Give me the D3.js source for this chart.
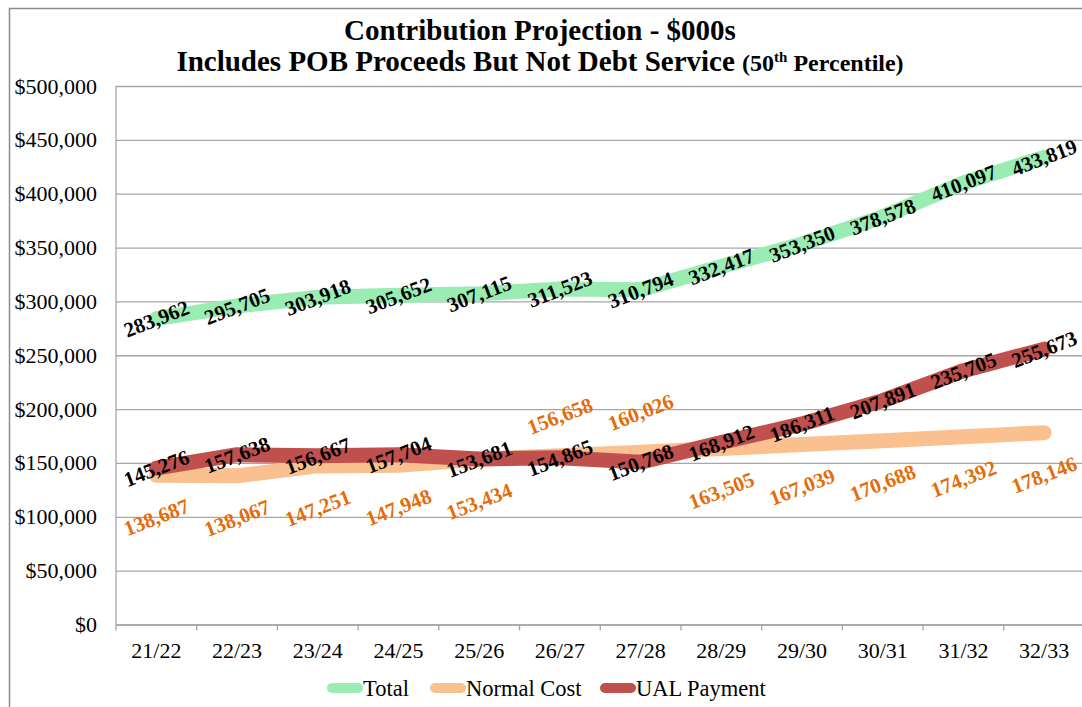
<!DOCTYPE html>
<html>
<head>
<meta charset="utf-8">
<script src="https://cdn.jsdelivr.net/npm/d3@7"></script>
<style>
  body { margin: 0; background: #fff; }
  svg { display: block; font-family: "Liberation Serif", "Times New Roman", serif; }
</style>
</head>
<body>
<svg id="chart" width="1082" height="707"></svg>
<script>
// chart data ($000s)
const years = ["21/22", "22/23", "23/24", "24/25", "25/26", "26/27", "27/28", "28/29", "29/30", "30/31", "31/32", "32/33"];
const total = [283962, 295705, 303918, 305652, 307115, 311523, 310794, 332417, 353350, 378578, 410097, 433819];
const normalCost = [138687, 138067, 147251, 147948, 153434, 156658, 160026, 163505, 167039, 170688, 174392, 178146];
const ualPayment = [145276, 157638, 156667, 157704, 153681, 154865, 150768, 168912, 186311, 207891, 235705, 255673];
const yTicks = [0, 50000, 100000, 150000, 200000, 250000, 300000, 350000, 400000, 450000, 500000];
// normal cost labels that sit above the line instead of below
const ncLabelsAbove = ["26/27", "27/28"];

const serif = "'Liberation Serif', 'Times New Roman', serif";
const svg = d3.select("#chart");
const margin = { left: 116, top: 86, bottom: 624.5 };
const plotRight = 1084.5;

// outer frame
svg.append("path")
    .attr("d", "M9.5,707 V8.5 H1082")
    .attr("fill", "none")
    .attr("stroke", "#8c8c8c")
    .attr("stroke-width", 1.5);

const x = d3.scaleBand().domain(years).range([margin.left, plotRight]);
const y = d3.scaleLinear().domain([0, 500000]).range([margin.bottom, margin.top]);

// gridlines + y labels
const yAxis = d3.axisLeft(y)
    .tickValues(yTicks)
    .tickSize(-(plotRight - margin.left))
    .tickPadding(19)
    .tickFormat(d => "$" + d3.format(",")(d));

const gy = svg.append("g")
    .attr("transform", `translate(${margin.left},0)`)
    .call(yAxis);
gy.select(".domain").remove();
gy.selectAll(".tick line").attr("stroke", "#a6a6a6").attr("stroke-width", 1.3);
gy.selectAll(".tick text")
    .attr("font-size", 22)
    .attr("font-family", serif)
    .attr("fill", "#000");

// y axis line
svg.append("line")
    .attr("x1", margin.left).attr("x2", margin.left)
    .attr("y1", margin.top).attr("y2", margin.bottom + 6)
    .attr("stroke", "#a6a6a6").attr("stroke-width", 1.3);

// x axis labels
const gx = svg.append("g")
    .attr("transform", `translate(0,${margin.bottom})`)
    .call(d3.axisBottom(x).tickSize(0).tickPadding(18));
gx.select(".domain").attr("stroke", "#a6a6a6").attr("stroke-width", 1.3);
gx.selectAll(".tick text")
    .attr("font-size", 22)
    .attr("font-family", serif)
    .attr("fill", "#000");

// boundary tick marks
svg.append("g").selectAll("line")
    .data(years.slice(1))
    .join("line")
    .attr("x1", d => x(d)).attr("x2", d => x(d))
    .attr("y1", margin.bottom).attr("y2", margin.bottom + 6)
    .attr("stroke", "#a6a6a6").attr("stroke-width", 1.3);

const series = [
  { name: "Total", values: total, color: "#99edb3", labelColor: "#000" },
  { name: "Normal Cost", values: normalCost, color: "#fac090", labelColor: "#e46c0a" },
  { name: "UAL Payment", values: ualPayment, color: "#c0504d", labelColor: "#000" }
];

const line = d3.line()
    .x((d, i) => x(years[i]) + x.bandwidth() / 2)
    .y(d => y(d));

svg.append("g").selectAll("path")
    .data(series)
    .join("path")
    .attr("d", s => line(s.values))
    .attr("fill", "none")
    .attr("stroke", s => s.color)
    .attr("stroke-width", 15)
    .attr("stroke-linecap", "round")
    .attr("stroke-linejoin", "round");

// data labels
series.forEach(s => {
  svg.append("g").selectAll("text")
    .data(s.values)
    .join("text")
    .attr("transform", (d, i) => {
      let px = x(years[i]) + x.bandwidth() / 2;
      let py = y(d);
      if (s.name === "Normal Cost") py += ncLabelsAbove.includes(years[i]) ? -40 : 42;
      return `translate(${px},${py}) rotate(-21)`;
    })
    .attr("text-anchor", "middle")
    .attr("dy", "0.35em")
    .attr("font-family", serif)
    .attr("font-size", 21)
    .attr("font-weight", "bold")
    .attr("fill", s.labelColor)
    .text(d => d3.format(",")(d));
});

// title
const title = svg.append("text")
    .attr("text-anchor", "middle")
    .attr("font-family", serif)
    .attr("font-weight", "bold")
    .attr("fill", "#000");
title.append("tspan")
    .attr("x", 540).attr("y", 40)
    .attr("font-size", 29)
    .text("Contribution Projection - $000s");
title.append("tspan")
    .attr("x", 540).attr("y", 71)
    .attr("font-size", 29)
    .text("Includes POB Proceeds But Not Debt Service ");
title.append("tspan").attr("font-size", 24).text("(50");
title.append("tspan").attr("font-size", 15).attr("dy", -9).text("th");
title.append("tspan").attr("font-size", 24).attr("dy", 9).text(" Percentile)");

// legend
const legendX = [327, 430, 600];
const legend = svg.append("g").selectAll("g")
    .data(series)
    .join("g")
    .attr("transform", (d, i) => `translate(${legendX[i]},688)`);
legend.append("line")
    .attr("x1", 5).attr("x2", 31)
    .attr("stroke", d => d.color)
    .attr("stroke-width", 10)
    .attr("stroke-linecap", "round");
legend.append("text")
    .attr("x", 36)
    .attr("dy", "0.35em")
    .attr("font-family", serif)
    .attr("font-size", 22.5)
    .attr("fill", "#000")
    .text(d => d.name);
</script>
</body>
</html>
